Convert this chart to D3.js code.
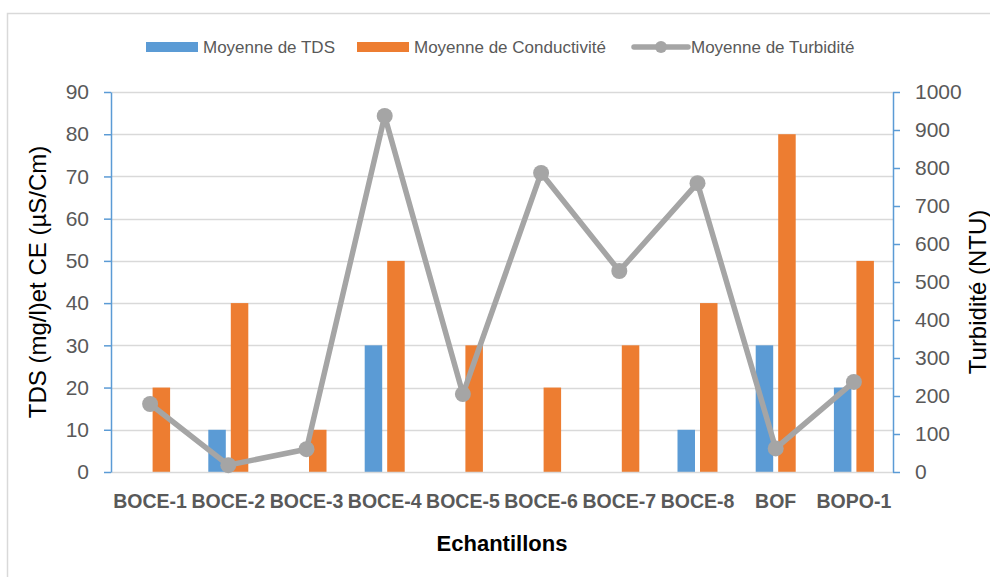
<!DOCTYPE html>
<html>
<head>
<meta charset="utf-8">
<script src="https://cdn.jsdelivr.net/npm/d3@7"></script>
<style>
  html, body { margin: 0; padding: 0; background: #fff; }
  svg { display: block; font-family: "Liberation Sans", Arial, sans-serif; }
</style>
</head>
<body>
<svg id="chart" width="990" height="577"></svg>
<script>
// Samples and mean values per sample
const categories = ["BOCE-1", "BOCE-2", "BOCE-3", "BOCE-4", "BOCE-5", "BOCE-6", "BOCE-7", "BOCE-8", "BOF", "BOPO-1"];
const tdsValues = [0, 10, 0, 30, 0, 0, 0, 10, 30, 20];
const conductivityValues = [20, 40, 10, 50, 30, 20, 30, 40, 80, 50];
const turbidityValues = [179, 18, 60, 937, 205, 787, 529, 760, 62, 237];
const leftTicks = [0, 10, 20, 30, 40, 50, 60, 70, 80, 90];
const rightTicks = [0, 100, 200, 300, 400, 500, 600, 700, 800, 900, 1000];
const seriesNames = ["Moyenne de TDS", "Moyenne de Conductivité", "Moyenne de Turbidité"];

const W = 990, H = 577;
const plot = { left: 111, right: 893, top: 92, bottom: 472 };
const colors = { tds: "#5B9BD5", cond: "#ED7D31", turb: "#A5A5A5" };
const axisColor = "#5B9BD5", gridColor = "#D9D9D9", labelColor = "#595959";

const svg = d3.select("#chart");

// Chart frame
svg.append("rect")
  .attr("x", 7.5).attr("y", 13.5)
  .attr("width", W + 10).attr("height", H + 10)
  .attr("fill", "none").attr("stroke", "#D9D9D9").attr("stroke-width", 1.5);

const x = d3.scaleBand().domain(categories).range([plot.left, plot.right]).padding(0);
const xSeries = d3.scaleBand().domain(["tds", "cond"]).range([-20, 20]).paddingInner(5 / 22.5);
const yLeft = d3.scaleLinear().domain([0, 90]).range([plot.bottom, plot.top]);
const yRight = d3.scaleLinear().domain([0, 1000]).range([plot.bottom, plot.top]);

// Horizontal gridlines
svg.append("g")
  .selectAll("line")
  .data(leftTicks.filter(d => d > 0))
  .join("line")
  .attr("x1", plot.left).attr("x2", plot.right)
  .attr("y1", d => Math.round(yLeft(d)) + 0.5).attr("y2", d => Math.round(yLeft(d)) + 0.5)
  .attr("stroke", gridColor).attr("stroke-width", 1.5);

// Bars
const barData = [];
categories.forEach((c, i) => {
  barData.push({ cat: c, key: "tds", value: tdsValues[i] });
  barData.push({ cat: c, key: "cond", value: conductivityValues[i] });
});
svg.append("g")
  .selectAll("rect")
  .data(barData.filter(d => d.value > 0))
  .join("rect")
  .attr("x", d => x(d.cat) + x.bandwidth() / 2 + xSeries(d.key))
  .attr("width", xSeries.bandwidth())
  .attr("y", d => yLeft(d.value))
  .attr("height", d => yLeft(0) - yLeft(d.value))
  .attr("fill", d => colors[d.key]);

// Bottom axis line
svg.append("line")
  .attr("x1", plot.left).attr("x2", plot.right)
  .attr("y1", plot.bottom + 0.5).attr("y2", plot.bottom + 0.5)
  .attr("stroke", gridColor).attr("stroke-width", 1.5);

// Left axis
const leftAxis = svg.append("g")
  .attr("transform", `translate(${plot.left},0)`)
  .call(d3.axisLeft(yLeft).tickValues(leftTicks).tickFormat(d3.format("d"))
    .tickSize(7).tickPadding(15).tickSizeOuter(0));
leftAxis.select(".domain").attr("stroke", axisColor).attr("stroke-width", 1.5);
leftAxis.selectAll(".tick line").attr("stroke", axisColor).attr("stroke-width", 1.5);
leftAxis.selectAll(".tick text")
  .attr("fill", labelColor).attr("font-size", "21px")
  .attr("font-family", "Liberation Sans, Arial, sans-serif");

// Right axis
const rightAxis = svg.append("g")
  .attr("transform", `translate(${plot.right},0)`)
  .call(d3.axisRight(yRight).tickValues(rightTicks).tickFormat(d3.format("d"))
    .tickSize(7).tickPadding(15).tickSizeOuter(0));
rightAxis.select(".domain").attr("stroke", axisColor).attr("stroke-width", 1.5);
rightAxis.selectAll(".tick line").attr("stroke", axisColor).attr("stroke-width", 1.5);
rightAxis.selectAll(".tick text")
  .attr("fill", labelColor).attr("font-size", "21px")
  .attr("font-family", "Liberation Sans, Arial, sans-serif");

// Category labels
const bottomAxis = svg.append("g")
  .attr("transform", `translate(0,${plot.bottom})`)
  .call(d3.axisBottom(x).tickSize(0).tickPadding(22));
bottomAxis.select(".domain").remove();
bottomAxis.selectAll(".tick text")
  .attr("fill", labelColor).attr("font-size", "19.5px").attr("font-weight", "bold")
  .attr("font-family", "Liberation Sans, Arial, sans-serif");

// Turbidity line with markers
const line = d3.line()
  .x((d, i) => x(categories[i]) + x.bandwidth() / 2)
  .y(d => yRight(d));
svg.append("path")
  .datum(turbidityValues)
  .attr("d", line)
  .attr("fill", "none").attr("stroke", colors.turb)
  .attr("stroke-width", 5.5).attr("stroke-linejoin", "round");
svg.append("g")
  .selectAll("circle")
  .data(turbidityValues)
  .join("circle")
  .attr("cx", (d, i) => x(categories[i]) + x.bandwidth() / 2)
  .attr("cy", d => yRight(d))
  .attr("r", 8)
  .attr("fill", colors.turb);

// Axis titles
svg.append("text")
  .attr("transform", `translate(46,${(plot.top + plot.bottom) / 2}) rotate(-90)`)
  .attr("text-anchor", "middle")
  .attr("font-size", "24px").attr("fill", "#000")
  .text("TDS (mg/l)et CE (µS/Cm)");
svg.append("text")
  .attr("transform", `translate(986,${(plot.top + plot.bottom) / 2 + 10}) rotate(-90)`)
  .attr("text-anchor", "middle")
  .attr("font-size", "24px").attr("fill", "#000")
  .text("Turbidité (NTU)");
svg.append("text")
  .attr("x", 502).attr("y", 551)
  .attr("text-anchor", "middle")
  .attr("font-size", "22px").attr("font-weight", "bold").attr("fill", "#000")
  .text("Echantillons");

// Legend
const legend = svg.append("g").attr("font-size", "17px").attr("fill", labelColor);
const legendY = 47;
const legendItems = [
  { name: seriesNames[0], kind: "bar", color: colors.tds, x: 146 },
  { name: seriesNames[1], kind: "bar", color: colors.cond, x: 357 },
  { name: seriesNames[2], kind: "line", color: colors.turb, x: 634 }
];
legendItems.forEach(item => {
  const g = legend.append("g").attr("transform", `translate(${item.x},${legendY})`);
  if (item.kind === "bar") {
    g.append("rect").attr("x", 0).attr("y", -5).attr("width", 52).attr("height", 10).attr("fill", item.color);
  } else {
    g.append("line").attr("x1", 0).attr("x2", 54).attr("y1", 0).attr("y2", 0)
      .attr("stroke", item.color).attr("stroke-width", 5.5).attr("stroke-linecap", "round");
    g.append("circle").attr("cx", 27).attr("cy", 0).attr("r", 6).attr("fill", item.color);
  }
  g.append("text").attr("x", 57).attr("y", 0).attr("dy", "0.35em")
    .attr("fill", labelColor).text(item.name);
});
</script>
</body>
</html>
